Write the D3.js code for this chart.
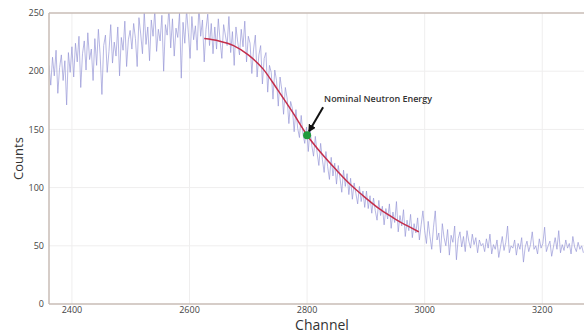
<!DOCTYPE html>
<html>
<head>
<meta charset="utf-8">
<script src="https://cdn.jsdelivr.net/npm/d3@7"></script>
<style>
  body { margin: 0; background: #fff; }
  svg { display: block; font-family: "Open Sans", "DejaVu Sans", sans-serif; }
</style>
</head>
<body>
<svg id="chart" width="584" height="334"></svg>
<script>
// spectrum: counts read every 3 channels starting at channel 2361
const chanStart = 2361;
const chanStep = 3;
const counts = [
  205,188,212,196,218,181,203,214,192,209,171,216,199,221,
  195,224,208,230,186,215,226,201,233,210,219,192,228,205,236,214,180,222,231,199,
  217,240,207,225,213,238,196,229,218,243,204,227,235,
  219,241,228,204,246,232,215,251,223,238,209,244,230,252,217,236,226,248,200,240,
  231,255,220,245,213,237,229,250,194,242,224,253,233,211,247,227,239,218,256,230,
  244,208,236,249,222,241,215,
  238,219,245,226,211,240,231,222,247,216,234,205,238,225,214,236,221,243,208,230,
  224,198,219,231,195,214,222,189,211,216,182,205,199,176,201,192,170,195,184,163,
  186,177,155,174,168,148,167,151,143,162,146,138,152,
  131,150,136,127,144,130,119,138,124,113,131,118,107,126,110,121,103,119,108,96,
  115,101,112,94,108,90,104,95,86,101,88,97,83,
  97,82,93,78,91,80,72,89,76,84,68,82,73,86,65,79,70,88,62,76,
  67,81,58,72,63,77,57,69,61,74,55,68,80,
  63,52,71,58,47,66,80,55,61,44,69,57,50,64,42,59,53,67,38,56,
  62,49,58,45,63,54,48,60,51,57,44,55,50,
  52,45,56,48,60,43,51,47,55,40,49,58,46,53,67,44,50,48,55,42,
  52,47,57,36,49,54,45,51,62,47,50,43,56,48,52,66,45,50,54,41,
  49,57,47,63,44,51,46,55,48,52,43,58,49,45,53,47,50,44
];

// fitted edge curve
const fitChannels = [2625,2650,2675,2700,2725,2750,2775,2800,2825,2850,2875,2900,2925,2950,2975,2990];
const fitCounts   = [228, 226, 222, 214, 202, 184, 165, 145, 129, 115, 102, 91,  81,  73,  66,  62];

const markChannel = 2800;
const markCount = 145;
const markLabel = "Nominal Neutron Energy";

const xTicks = [2400, 2600, 2800, 3000, 3200];
const yTicks = [0, 50, 100, 150, 200, 250];

const width = 584, height = 334;
const margin = {top: 13, right: 0, bottom: 30, left: 49};
const innerW = width - margin.left - margin.right;
const innerH = height - margin.top - margin.bottom;

const svg = d3.select('#chart');

const x = d3.scaleLinear().domain([2361, 3271]).range([0, innerW]);
const y = d3.scaleLinear().domain([0, 250]).range([innerH, 0]);

const g = svg.append('g')
  .attr('transform', 'translate(' + margin.left + ',' + margin.top + ')');

svg.append('defs').append('clipPath').attr('id', 'clip')
  .append('rect').attr('width', innerW).attr('height', innerH);

// grid
g.append('g').selectAll('line.vg')
  .data(xTicks).enter().append('line')
  .attr('x1', d => x(d)).attr('x2', d => x(d))
  .attr('y1', 0).attr('y2', innerH)
  .attr('stroke', '#efeeee').attr('stroke-width', 1);

g.append('g').selectAll('line.hg')
  .data(yTicks.filter(d => d > 0 && d < 250)).enter().append('line')
  .attr('x1', 0).attr('x2', innerW)
  .attr('y1', d => y(d)).attr('y2', d => y(d))
  .attr('stroke', '#efeeee').attr('stroke-width', 1);

// spectrum
const pts = counts.map((c, i) => [chanStart + i * chanStep, c]);
const line = d3.line().x(d => x(d[0])).y(d => y(d[1]));

g.append('path')
  .datum(pts)
  .attr('clip-path', 'url(#clip)')
  .attr('d', line)
  .attr('fill', 'none')
  .attr('stroke', '#9494d6')
  .attr('stroke-width', 0.8)
  .attr('stroke-opacity', 0.85);

// fit
const fitPts = fitChannels.map((c, i) => [c, fitCounts[i]]);
g.append('path')
  .datum(fitPts)
  .attr('d', d3.line().x(d => x(d[0])).y(d => y(d[1])).curve(d3.curveMonotoneX))
  .attr('fill', 'none')
  .attr('stroke', '#c42e4a')
  .attr('stroke-width', 1.5);

// axes frame
const frame = '#c9bcb6';
g.append('line').attr('x1', 0).attr('x2', innerW).attr('y1', 0).attr('y2', 0)
  .attr('stroke', frame).attr('stroke-width', 1.5);
g.append('line').attr('x1', 0).attr('x2', innerW).attr('y1', innerH).attr('y2', innerH)
  .attr('stroke', frame).attr('stroke-width', 1.5);
g.append('line').attr('x1', 0).attr('x2', 0).attr('y1', 0).attr('y2', innerH)
  .attr('stroke', frame).attr('stroke-width', 1.5);

// tick labels
g.append('g').selectAll('text')
  .data(yTicks).enter().append('text')
  .attr('x', -5).attr('y', d => y(d)).attr('dy', '0.35em')
  .attr('text-anchor', 'end')
  .attr('font-size', 9).attr('fill', '#444')
  .text(d => d);

g.append('g').selectAll('text')
  .data(xTicks).enter().append('text')
  .attr('x', d => x(d)).attr('y', innerH + 9)
  .attr('text-anchor', 'middle')
  .attr('font-size', 9).attr('fill', '#444')
  .text(d => d);

// axis titles
svg.append('text')
  .attr('transform', 'translate(23,' + (margin.top + innerH / 2) + ') rotate(-90)')
  .attr('text-anchor', 'middle')
  .attr('font-size', 13).attr('fill', '#333')
  .text('Counts');

svg.append('text')
  .attr('x', 322).attr('y', 330)
  .attr('text-anchor', 'middle')
  .attr('font-size', 14).attr('fill', '#333')
  .text('Channel');

// annotation
const mx = x(markChannel), my = y(markCount);
svg.append('defs').append('marker')
  .attr('id', 'arrow').attr('viewBox', '0 0 10 10')
  .attr('refX', 8).attr('refY', 5)
  .attr('markerWidth', 4).attr('markerHeight', 4)
  .attr('orient', 'auto')
  .append('path').attr('d', 'M0,0 L10,5 L0,10 z').attr('fill', '#111');

g.append('line')
  .attr('x1', mx + 16).attr('y1', my - 28)
  .attr('x2', mx + 2).attr('y2', my - 4)
  .attr('stroke', '#111').attr('stroke-width', 2)
  .attr('marker-end', 'url(#arrow)');

g.append('circle')
  .attr('cx', mx).attr('cy', my).attr('r', 4)
  .attr('fill', '#1f9a3c');

g.append('text')
  .attr('x', mx + 17).attr('y', my - 33)
  .attr('font-size', 9).attr('font-weight', 600).attr('fill', '#333')
  .text(markLabel);
</script>
</body>
</html>
